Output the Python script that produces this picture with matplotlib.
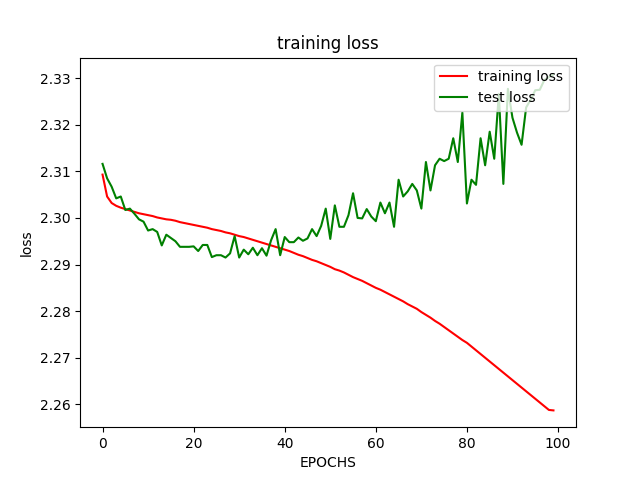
import matplotlib
matplotlib.use("Agg")
import matplotlib.pyplot as plt

epochs = list(range(100))

train_loss = [
    2.3093, 2.3046, 2.3032, 2.3026, 2.3022, 2.3019, 2.3016, 2.3013, 2.3010, 2.3008,
    2.3006, 2.3004, 2.3001, 2.2999, 2.2997, 2.2996, 2.2994, 2.2991, 2.2989, 2.2987,
    2.2985, 2.2983, 2.2981, 2.2979, 2.2976, 2.2974, 2.2972, 2.2969, 2.2967, 2.2964,
    2.2961, 2.2959, 2.2956, 2.2953, 2.2950, 2.2947, 2.2944, 2.2941, 2.2938, 2.2935,
    2.2932, 2.2929, 2.2925, 2.2921, 2.2918, 2.2914, 2.2910, 2.2907, 2.2903, 2.2899,
    2.2895, 2.2890, 2.2887, 2.2883, 2.2878, 2.2873, 2.2869, 2.2865, 2.2860, 2.2855,
    2.2850, 2.2846, 2.2841, 2.2836, 2.2831, 2.2826, 2.2821, 2.2815, 2.2810, 2.2805,
    2.2798, 2.2792, 2.2786, 2.2779, 2.2773, 2.2766, 2.2759, 2.2752, 2.2745, 2.2738,
    2.2732, 2.2724, 2.2716, 2.2708, 2.2700, 2.2692, 2.2684, 2.2676, 2.2668, 2.2660,
    2.2652, 2.2644, 2.2636, 2.2628, 2.2620, 2.2612, 2.2604, 2.2596, 2.2588, 2.2587,
]

test_loss = [
    2.3116, 2.3085, 2.3067, 2.3042, 2.3046, 2.3017, 2.3020, 2.3009, 2.2997, 2.2992,
    2.2973, 2.2976, 2.2970, 2.2941, 2.2964, 2.2957, 2.2950, 2.2938, 2.2938, 2.2938,
    2.2939, 2.2929, 2.2942, 2.2942, 2.2916, 2.2920, 2.2920, 2.2915, 2.2924, 2.2961,
    2.2915, 2.2932, 2.2922, 2.2936, 2.2920, 2.2935, 2.2919, 2.2952, 2.2976, 2.2920,
    2.2959, 2.2948, 2.2948, 2.2958, 2.2951, 2.2956, 2.2976, 2.2961, 2.2983, 2.3020,
    2.2955, 2.3027, 2.2981, 2.2981, 2.3006, 2.3053, 2.3000, 2.2999, 2.3019, 2.3003,
    2.2993, 2.3033, 2.3010, 2.3033, 2.2981, 2.3082, 2.3046, 2.3057, 2.3073, 2.3059,
    2.3020, 2.3120, 2.3059, 2.3113, 2.3127, 2.3122, 2.3127, 2.3171, 2.3120, 2.3226,
    2.3031, 2.3082, 2.3071, 2.3171, 2.3113, 2.3185, 2.3127, 2.3266, 2.3073, 2.3277,
    2.3215, 2.3183, 2.3157, 2.3237, 2.3254, 2.3274, 2.3275, 2.3296, 2.3302, 2.3308,
]

plt.figure(figsize=(6.4, 4.8), dpi=100)
plt.plot(epochs, train_loss, color="red", label="training loss")
plt.plot(epochs, test_loss, color="green", label="test loss")
plt.title("training loss")
plt.xlabel("EPOCHS")
plt.ylabel("loss")
plt.legend(loc="upper right")
plt.savefig("out.png")
